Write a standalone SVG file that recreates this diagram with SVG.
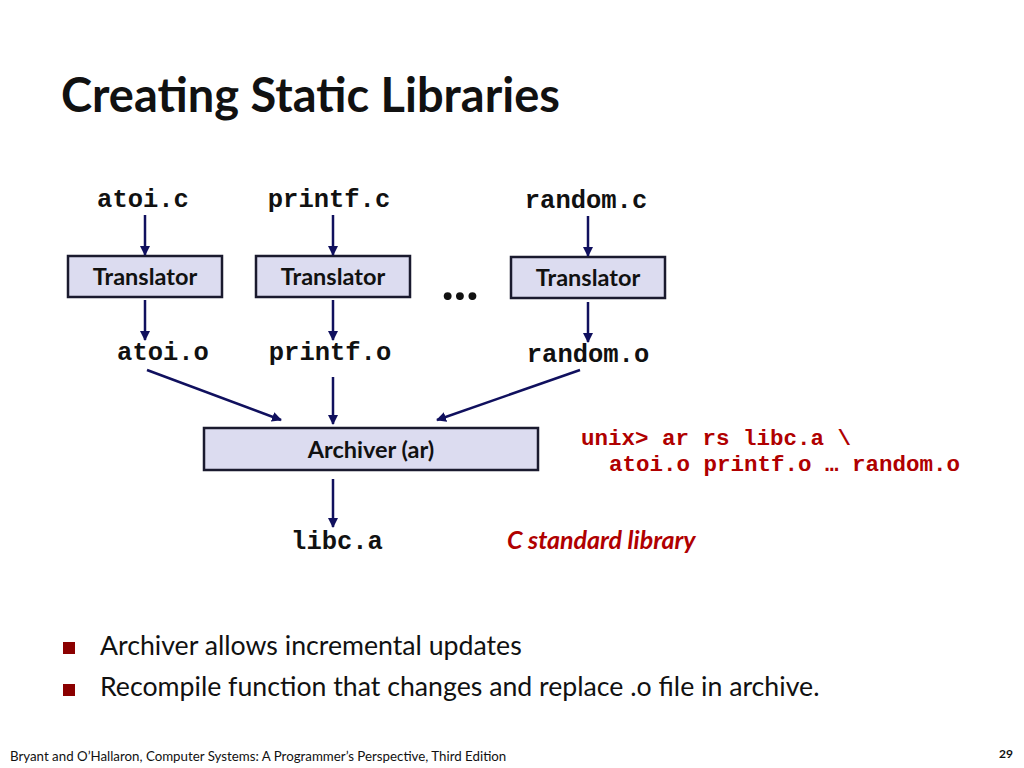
<svg xmlns="http://www.w3.org/2000/svg" width="1024" height="768" viewBox="0 0 1024 768">
<style>
.box{fill:#dcdcf0;stroke:#1a1a2e;stroke-width:2.5}
.bl{font-family:Lato,"Open Sans",sans-serif;font-weight:bold;font-size:23.5px;fill:#111;text-anchor:middle}
.mono{font-family:"Liberation Mono",monospace;font-weight:bold;font-size:25.5px;fill:#111;text-anchor:middle}
.red{font-family:"Liberation Mono",monospace;font-weight:bold;font-size:22.5px;fill:#b00000}
.ar{stroke:#10105e;stroke-width:2.5;fill:none;marker-end:url(#ah)}
.bt{font-family:Lato,"Open Sans",sans-serif;font-size:26.7px;fill:#111}
</style>
<defs><marker id="ah" viewBox="0 0 10 10" refX="9" refY="5" markerWidth="4" markerHeight="4" orient="auto"><path d="M0,0L10,5L0,10z" fill="#10105e"/></marker></defs>
<rect width="1024" height="768" fill="#fff"/>
<text x="61" y="112" font-family="Lato,'Open Sans',sans-serif" font-weight="bold" font-size="47" fill="#111">Creating Static Libraries</text>
<g id="src"><text class="mono" x="143" y="207">atoi.c</text><text class="mono" x="329" y="207">printf.c</text><text class="mono" x="586" y="208">random.c</text></g>
<g id="t1"><rect class="box" x="68" y="256" width="154" height="41"/><text class="bl" x="145" y="285">Translator</text></g>
<g id="t2"><rect class="box" x="256" y="256" width="154" height="41"/><text class="bl" x="333" y="285">Translator</text></g>
<g id="t3"><rect class="box" x="511" y="257" width="154" height="41"/><text class="bl" x="588" y="286">Translator</text></g>
<text x="460" y="300" font-family="Lato,sans-serif" font-weight="bold" font-size="52" text-anchor="middle" fill="#111">...</text>
<g id="obj"><text class="mono" x="163" y="360">atoi.o</text><text class="mono" x="330" y="360">printf.o</text><text class="mono" x="588" y="362">random.o</text></g>
<g id="archiver"><rect class="box" x="204" y="428" width="334" height="42"/><text class="bl" x="371" y="458">Archiver (ar)</text></g>
<g id="libc"><text class="mono" x="337" y="549">libc.a</text></g>
<g id="connectors">
<line class="ar" x1="145" y1="215" x2="145" y2="255"/><line class="ar" x1="333" y1="215" x2="333" y2="255"/><line class="ar" x1="588" y1="216" x2="588" y2="256"/>
<line class="ar" x1="145" y1="300" x2="145" y2="340"/><line class="ar" x1="333" y1="300" x2="333" y2="340"/><line class="ar" x1="588" y1="302" x2="588" y2="342"/>
<line class="ar" x1="147" y1="370" x2="281" y2="420"/><line class="ar" x1="333" y1="377" x2="333" y2="424"/><line class="ar" x1="580" y1="370" x2="437" y2="420"/>
<line class="ar" x1="333" y1="479" x2="333" y2="527"/>
</g>
<text class="red" x="581" y="445">unix&gt; ar rs libc.a \</text>
<text class="red" x="609" y="471">atoi.o printf.o … random.o</text>
<text x="507" y="549" font-family="Lato,sans-serif" font-weight="bold" font-style="italic" font-size="25" fill="#b00000">C standard library</text>
<rect x="63" y="642" width="12" height="12" fill="#8b0000"/><text class="bt" x="100" y="655">Archiver allows incremental updates</text>
<rect x="63" y="684" width="12" height="12" fill="#8b0000"/><text class="bt" x="100" y="696">Recompile function that changes and replace .o file in archive.</text>
<text x="10" y="761" font-family="Lato,sans-serif" font-size="13.3" fill="#111">Bryant and O’Hallaron, Computer Systems: A Programmer’s Perspective, Third Edition</text>
<text x="1013" y="758" font-family="Lato,sans-serif" font-weight="bold" font-size="12" text-anchor="end" fill="#111">29</text>
</svg>
